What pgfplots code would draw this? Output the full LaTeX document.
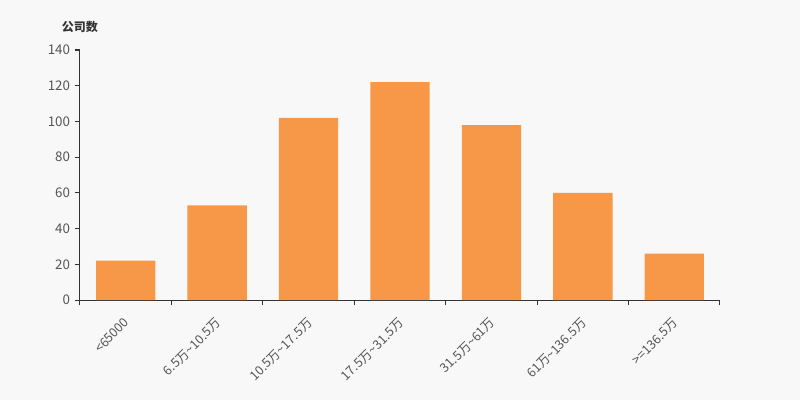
\documentclass[border=0pt]{standalone}
\usepackage{fontspec}
\setmainfont{Noto Sans CJK SC}
\usepackage{pgfplots}
\pgfplotsset{compat=1.18}
\definecolor{bg}{HTML}{F8F8F8}
\definecolor{barc}{HTML}{F79848}
\definecolor{axc}{HTML}{333333}
\definecolor{lblc}{HTML}{555555}
\newcommand{\tl}{\textasciitilde}
\begin{document}
\begin{tikzpicture}
\fill[bg] (-60pt,-75pt) rectangle (540pt,225pt);
\begin{axis}[
  at={(0,0)}, anchor=south west,
  scale only axis, width=480pt, height=187.5pt,
  xmin=-0.5, xmax=6.5, ymin=0, ymax=140,
  axis x line*=bottom, axis y line*=left,
  axis line style={axc, line width=0.75pt},
  xtick={-0.5,0.5,1.5,2.5,3.5,4.5,5.5,6.5},
  xticklabels={},
  extra x ticks={0,1,2,3,4,5,6},
  extra x tick labels={<65000,6.5万\tl 10.5万,10.5万\tl 17.5万,17.5万\tl 31.5万,31.5万\tl 61万,61万\tl 136.5万,>=136.5万},
  extra x tick style={major tick length=0pt, tick style={draw=none},
    tick label style={rotate=45, anchor=north east, font=\fontsize{9.5pt}{10pt}\selectfont, text=lblc, inner sep=1pt, yshift=-6.5pt, xshift=-9pt}},
  ytick={0,20,...,140},
  y tick label style={font=\fontsize{10pt}{11pt}\selectfont, text=lblc},
  /pgf/number format/assume math mode=true,
  tick style={axc, line width=0.75pt},
  major tick length=4pt,
  tick align=outside,
  ybar, bar width=44.5pt,
  clip=false,
]
\addplot[fill=barc, draw=none] coordinates {(0,22) (1,53) (2,102) (3,122) (4,98) (5,60) (6,26)};
\node[font=\fontsize{9pt}{10pt}\selectfont\bfseries, text=axc] at (rel axis cs:0,1) [yshift=17pt, xshift=0pt] {公司数};
\end{axis}
\end{tikzpicture}
\end{document}
